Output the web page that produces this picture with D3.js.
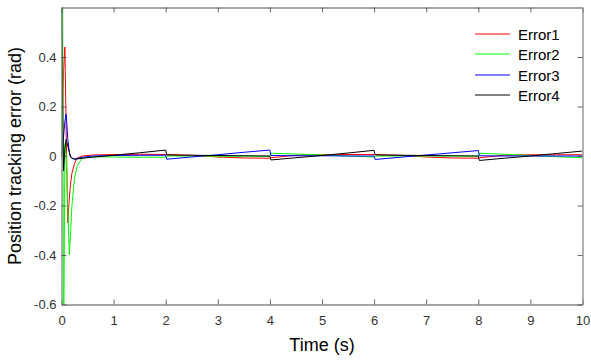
<!DOCTYPE html>
<html>
<head>
<meta charset="utf-8">
<script src="https://cdn.jsdelivr.net/npm/d3@7"></script>
<style>
  html, body { margin: 0; padding: 0; background: #fff; }
  svg { display: block; font-family: "Liberation Sans", Arial, sans-serif; }
</style>
</head>
<body>
<div id="chart"></div>
<script>
// time samples (s), shared by all four series
const time = [0, 0.02, 0.04, 0.065, 0.09, 0.12, 0.15, 0.17, 0.2, 0.25, 0.3, 0.4, 0.6, 1.0, 1.5,
  2.0, 2.02, 2.5, 3.0, 3.5, 4.0, 4.02, 4.5, 5.0, 5.5, 6.0, 6.02, 6.5, 7.0, 7.5, 8.0, 8.02, 8.5, 9.0, 9.5, 10.0];

const error1 = [0, 0.15, 0.35, 0.44, 0.1, -0.27, -0.17, -0.12, -0.07, -0.03, -0.008, 0.0, 0.004, 0.006, 0.007,
  0.006, 0.006, 0.003, -0.004, -0.008, -0.009, -0.007, 0.003, 0.005, 0.006, 0.006, 0.006, 0.003, -0.004, -0.008,
  -0.009, -0.007, 0.003, 0.005, 0.005, 0.005];

const error2 = [0, 0.9, -0.9, 0.05, 0.0, -0.2, -0.40, -0.33, -0.2, -0.09, -0.04, -0.008, -0.003, -0.004, -0.005,
  -0.005, 0.0, 0.0, -0.001, -0.001, -0.002, 0.011, 0.008, 0.004, 0.0, -0.004, 0.0, 0.0, 0.0, 0.0,
  -0.001, 0.011, 0.007, 0.002, -0.003, -0.007];

const error3 = [0, 0.04, 0.08, 0.14, 0.17, 0.07, 0.015, -0.003, -0.01, -0.012, -0.01, -0.005, 0.0, 0.002, 0.003,
  0.003, -0.013, -0.004, 0.005, 0.015, 0.024, 0.002, 0.001, 0.001, 0.0, 0.0, -0.014, -0.005, 0.004, 0.013,
  0.022, 0.001, 0.0, 0.0, 0.0, 0.0];

const error4 = [0.7, 0.25, -0.06, 0.03, 0.068, 0.04, 0.015, 0.0, -0.008, -0.013, -0.012, -0.009, -0.005, 0.003, 0.013,
  0.024, 0.004, 0.003, 0.002, 0.001, 0.0, -0.016, -0.007, 0.002, 0.012, 0.023, 0.004, 0.003, 0.002, 0.001,
  0.0, -0.018, -0.009, 0.0, 0.01, 0.02];

const seriesNames = ["Error1", "Error2", "Error3", "Error4"];
const seriesColors = ["#ff0000", "#00ff00", "#0000ff", "#000000"];

const xTicks = [0, 1, 2, 3, 4, 5, 6, 7, 8, 9, 10];
const yTicks = [-0.6, -0.4, -0.2, 0, 0.2, 0.4];
const yTickLabels = ["-0.6", "-0.4", "-0.2", "0", "0.2", "0.4"];

const W = 591, H = 360;
const margin = {top: 7.5, right: 8.5, bottom: 55.5, left: 61.5};
const width = W - margin.left - margin.right;
const height = H - margin.top - margin.bottom;

const svg = d3.select("#chart").append("svg")
  .attr("width", W)
  .attr("height", H);

const g = svg.append("g")
  .attr("transform", "translate(" + margin.left + "," + margin.top + ")");

const x = d3.scaleLinear().domain([0, 10]).range([0, width]);
const y = d3.scaleLinear().domain([-0.6, 0.6]).range([height, 0]);

g.append("clipPath").attr("id", "plotclip")
  .append("rect").attr("width", width).attr("height", height);

// lines
const allSeries = [error1, error2, error3, error4];
const line = d3.line()
  .x(function(d) { return x(d[0]); })
  .y(function(d) { return y(d[1]); });

const lines = g.append("g").attr("clip-path", "url(#plotclip)");
allSeries.forEach(function(vals, i) {
  lines.append("path")
    .datum(time.map(function(t, k) { return [t, vals[k]]; }))
    .attr("fill", "none")
    .attr("stroke", seriesColors[i])
    .attr("stroke-width", 1)
    .attr("stroke-linejoin", "round")
    .attr("d", line);
});

// axes, ticks pointing inside on all four sides
const axisColor = "#888";
function styleAxis(sel) {
  sel.selectAll(".domain").attr("stroke", axisColor).attr("stroke-width", 1.3);
  sel.selectAll(".tick line").attr("stroke", "#444").attr("stroke-width", 0.8);
  sel.selectAll(".tick text").attr("fill", "#333").style("font-size", "13px")
    .style("font-family", "'Liberation Sans', Arial, sans-serif");
}

g.append("g")
  .attr("transform", "translate(0," + height + ")")
  .call(d3.axisBottom(x).tickValues(xTicks).tickSize(-5).tickSizeOuter(0).tickPadding(11)
    .tickFormat(function(d) { return String(d); }))
  .call(styleAxis);

g.append("g")
  .call(d3.axisLeft(y).tickValues(yTicks).tickSize(-5).tickSizeOuter(0).tickPadding(5)
    .tickFormat(function(d, i) { return yTickLabels[i]; }))
  .call(styleAxis);

g.append("g")
  .call(d3.axisTop(x).tickValues(xTicks).tickSize(-5).tickSizeOuter(0).tickFormat(""))
  .call(styleAxis);

g.append("g")
  .attr("transform", "translate(" + width + ",0)")
  .call(d3.axisRight(y).tickValues(yTicks).tickSize(-5).tickSizeOuter(0).tickFormat(""))
  .call(styleAxis);

// axis titles
svg.append("text")
  .attr("x", margin.left + width / 2)
  .attr("y", 351)
  .attr("text-anchor", "middle")
  .style("font-size", "18px")
  .attr("fill", "#000")
  .text("Time (s)");

svg.append("text")
  .attr("transform", "translate(21," + (margin.top + height / 2) + ") rotate(-90)")
  .attr("text-anchor", "middle")
  .style("font-size", "18px")
  .attr("fill", "#000")
  .text("Position tracking error (rad)");

// legend (no box)
const legend = svg.append("g");
seriesNames.forEach(function(name, i) {
  const ly = Math.round(33.5 + i * 20.5);
  legend.append("line")
    .attr("x1", 475).attr("x2", 510)
    .attr("y1", ly).attr("y2", ly)
    .attr("stroke", seriesColors[i])
    .attr("stroke-width", 1);
  legend.append("text")
    .attr("x", 518).attr("y", ly + 5.5)
    .style("font-size", "15px")
    .attr("fill", "#000")
    .text(name);
});
</script>
</body>
</html>
